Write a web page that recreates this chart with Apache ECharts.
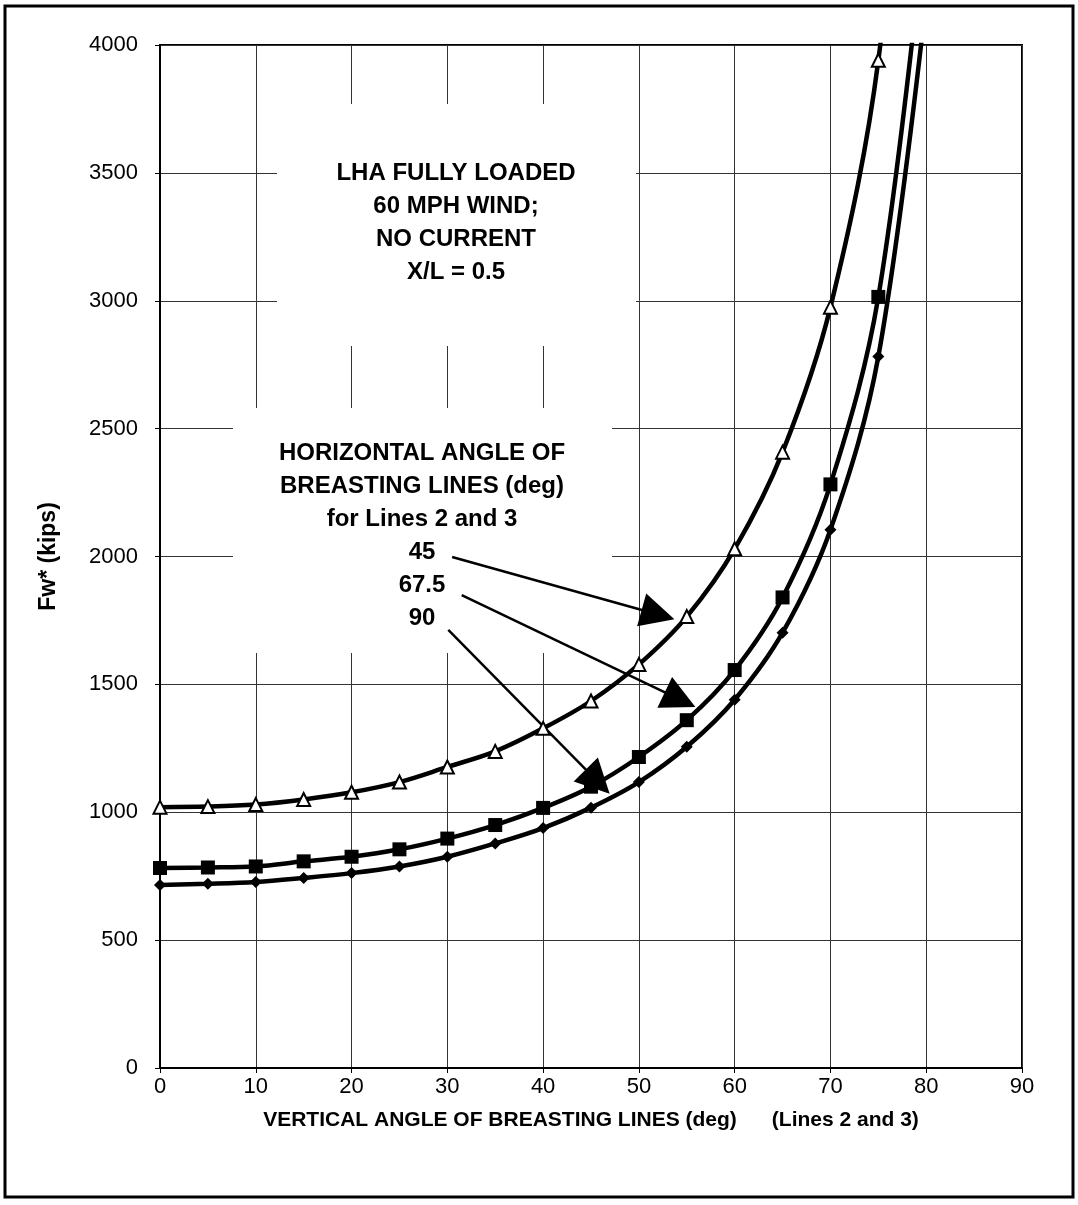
<!DOCTYPE html>
<html>
<head>
<meta charset="utf-8">
<script src="https://cdn.jsdelivr.net/npm/echarts@6/dist/echarts.min.js"></script>
<style>
html,body{margin:0;padding:0;background:#fff;}
#chart{width:1078px;height:1205px;}
</style>
</head>
<body>
<div id="chart"></div>
<script>
// Vertical angle of breasting lines (deg)
const angles = [0, 5, 10, 15, 20, 25, 30, 35, 40, 45, 50, 55, 60, 65, 70, 75, 80];
// Fw* (kips) for horizontal angle 45 deg
const fw45 = [1020, 1022, 1030, 1050, 1078, 1118, 1177, 1238, 1328, 1435, 1578, 1765, 2030, 2408, 2975, 3940, 5870];
// horizontal angle 67.5 deg
const fw675 = [782, 784, 788, 808, 826, 855, 897, 950, 1017, 1100, 1216, 1360, 1556, 1840, 2282, 3015, 4520];
// horizontal angle 90 deg
const fw90 = [716, 720, 727, 743, 762, 788, 826, 878, 938, 1018, 1118, 1256, 1440, 1702, 2105, 2782, 4180];

const seriesNames = ['45', '67.5', '90'];
const xTicks = [0, 10, 20, 30, 40, 50, 60, 70, 80, 90];
const yTicks = [0, 500, 1000, 1500, 2000, 2500, 3000, 3500, 4000];

// Annotation arrows: [start, end] in data coordinates
const arrow45 = [[30.5, 1998], [52.0, 1773]];
const arrow675 = [[31.5, 1849], [54.3, 1440]];
const arrow90 = [[30.1, 1713], [45.7, 1120]];

const noteText1 = ['LHA FULLY LOADED', '60 MPH WIND;', 'NO CURRENT', 'X/L = 0.5'];
const noteText2 = ['HORIZONTAL ANGLE OF', 'BREASTING LINES (deg)', 'for Lines 2 and 3', '45', '67.5', '90'];

const FONT = "'Liberation Sans', Arial, Helvetica, sans-serif";

function pairs(xs, ys) { return xs.map((x, i) => [x, ys[i]]); }

const chart = echarts.init(document.getElementById('chart'), null, {renderer: 'canvas'});

const baseLine = {
  type: 'line',
  smooth: 0.35,
  clip: true,
  lineStyle: {color: '#000', width: 4.5},
  silent: true,
  z: 5
};

const option = {
  backgroundColor: '#fff',
  animation: false,
  grid: {left: 160, top: 45, width: 862, height: 1023, show: true, borderColor: '#000', borderWidth: 2, backgroundColor: 'transparent'},
  xAxis: {
    type: 'value', min: xTicks[0], max: xTicks[xTicks.length - 1], interval: 10,
    name: 'VERTICAL ANGLE OF BREASTING LINES (deg)      (Lines 2 and 3)',
    nameLocation: 'middle', nameGap: 42,
    nameTextStyle: {fontFamily: FONT, fontWeight: 'bold', fontSize: 21, color: '#000'},
    axisLine: {show: true, onZero: false, lineStyle: {color: '#000', width: 2}},
    axisTick: {show: true, length: 5, lineStyle: {color: '#000'}},
    axisLabel: {fontFamily: FONT, fontSize: 22, color: '#000', margin: 8, formatter: v => String(v)},
    splitLine: {show: true, lineStyle: {color: '#333', width: 1}}
  },
  yAxis: {
    type: 'value', min: yTicks[0], max: yTicks[yTicks.length - 1], interval: 500,
    name: 'Fw* (kips)', nameLocation: 'middle', nameGap: 100,
    nameTextStyle: {fontFamily: FONT, fontWeight: 'bold', fontSize: 23, color: '#000'},
    axisLine: {show: true, lineStyle: {color: '#000', width: 2}},
    axisTick: {show: true, length: 5, lineStyle: {color: '#000'}},
    axisLabel: {fontFamily: FONT, fontSize: 22, color: '#000', margin: 22, formatter: v => String(v)},
    splitLine: {show: true, lineStyle: {color: '#333', width: 1}}
  },
  series: [
    Object.assign({}, baseLine, {
      name: seriesNames[0],
      data: pairs(angles, fw45),
      symbol: 'triangle', symbolSize: 13,
      itemStyle: {color: '#fff', borderColor: '#000', borderWidth: 2},
      markLine: {
        silent: true,
        symbol: ['none', 'triangle'],
        symbolSize: 34,
        label: {show: false},
        emphasis: {disabled: true},
        lineStyle: {color: '#000', width: 2.5, type: 'solid'},
        itemStyle: {color: '#000'},
        data: [
          [{coord: arrow45[0]}, {coord: arrow45[1]}],
          [{coord: arrow675[0]}, {coord: arrow675[1]}],
          [{coord: arrow90[0]}, {coord: arrow90[1]}]
        ]
      }
    }),
    Object.assign({}, baseLine, {
      name: seriesNames[1],
      data: pairs(angles, fw675),
      symbol: 'rect', symbolSize: 14,
      itemStyle: {color: '#000'}
    }),
    Object.assign({}, baseLine, {
      name: seriesNames[2],
      data: pairs(angles, fw90),
      symbol: 'diamond', symbolSize: 12,
      itemStyle: {color: '#000'}
    })
  ],
  graphic: [
    {type: 'rect', z: 100, silent: true, shape: {x: 5, y: 6, width: 1068, height: 1191}, style: {fill: 'none', stroke: '#000', lineWidth: 3}},
    {type: 'rect', z: 1, silent: true, shape: {x: 277, y: 104, width: 359, height: 242}, style: {fill: '#fff'}},
    {type: 'rect', z: 1, silent: true, shape: {x: 233, y: 408, width: 379, height: 245}, style: {fill: '#fff'}},
    {type: 'text', z: 10, silent: true, style: {text: noteText1.join('\n'), x: 456, y: 157, font: 'bold 24px ' + FONT, fill: '#000', align: 'center', verticalAlign: 'top', lineHeight: 33}},
    {type: 'text', z: 10, silent: true, style: {text: noteText2.join('\n'), x: 422, y: 437, font: 'bold 24px ' + FONT, fill: '#000', align: 'center', verticalAlign: 'top', lineHeight: 33}}
  ]
};

chart.setOption(option);
</script>
</body>
</html>
